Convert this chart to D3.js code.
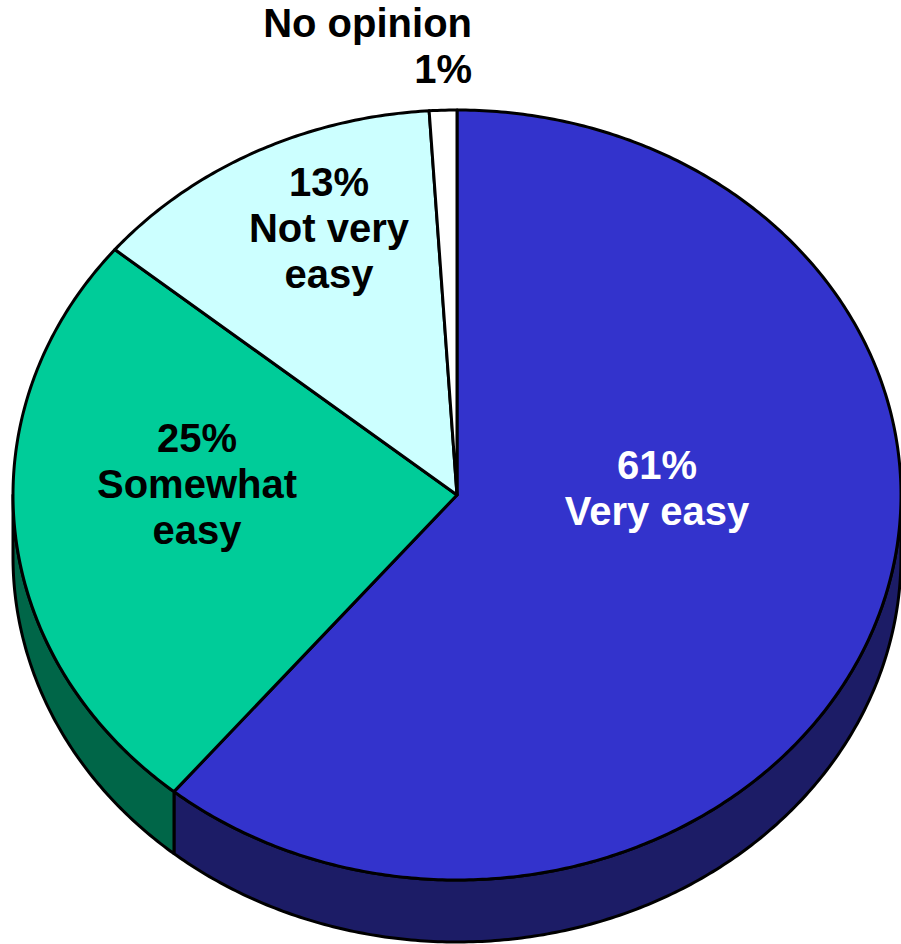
<!DOCTYPE html>
<html><head><meta charset="utf-8">
<script src="https://cdn.jsdelivr.net/npm/d3@7"></script>
<style>html,body{margin:0;padding:0;background:#fff;}svg{display:block;}</style>
</head><body>
<script>
const categories = ["Very easy", "Somewhat easy", "Not very easy", "No opinion"];
const values = [61, 25, 13, 1];
const labels = ["61%", "25%", "13%", "1%"];

const topColors = ["#3333cc", "#00cc99", "#ccffff", "#ffffff"];
const sideColors = ["#1c1c66", "#006648", "#99cccc", "#cccccc"];
const textColors = ["#ffffff", "#000000", "#000000", "#000000"];

const W = 901, H = 944;
const cx = 457, cy = 495, rx = 444, ry = 385, depth = 62;

const svg = d3.select("body").append("svg").attr("width", W).attr("height", H);

const pie = d3.pie().sort(null).value(d => d.v).startAngle(0).endAngle(2 * Math.PI);
const arcs = pie(values.map((v, i) => ({v, i})));

const P = (a, z = 0) => [cx + rx * Math.sin(a), cy - ry * Math.cos(a) + z];
const arcPts = (a0, a1, z) => {
  const n = Math.max(2, Math.ceil(Math.abs(a1 - a0) / 0.01));
  return d3.range(n + 1).map(k => P(a0 + (a1 - a0) * k / n, z));
};
const line = d3.line();

// side walls (front half: PI/2 .. 3PI/2)
const sides = svg.append("g");
arcs.forEach(d => {
  const a0 = Math.max(d.startAngle, Math.PI / 2);
  const a1 = Math.min(d.endAngle, 3 * Math.PI / 2);
  if (a1 <= a0) return;
  const pts = arcPts(a0, a1, 0).concat(arcPts(a1, a0, depth));
  sides.append("path")
    .attr("d", line(pts) + "Z")
    .attr("fill", sideColors[d.data.i])
    .attr("stroke", "#000").attr("stroke-width", 3).attr("stroke-linejoin", "round");
});

// top faces
const tops = svg.append("g");
arcs.forEach(d => {
  const pts = [[cx, cy]].concat(arcPts(d.startAngle, d.endAngle, 0));
  tops.append("path")
    .attr("d", line(pts) + "Z")
    .attr("fill", topColors[d.data.i])
    .attr("stroke", "#000").attr("stroke-width", 3).attr("stroke-linejoin", "round");
});

const labelLayout = [
  {x: 657, y: 479, anchor: "middle", lines: [labels[0], "Very easy"]},
  {x: 197, y: 452, anchor: "middle", lines: [labels[1], "Somewhat", "easy"]},
  {x: 329, y: 196, anchor: "middle", lines: [labels[2], "Not very", "easy"]},
  {x: 472, y: 37, anchor: "end", lines: ["No opinion", labels[3]]}
];

const lg = svg.append("g")
  .attr("font-family", "'Liberation Sans', Arial, sans-serif")
  .attr("font-weight", "bold").attr("font-size", 40);
labelLayout.forEach((L, i) => {
  const t = lg.append("text").attr("text-anchor", L.anchor).attr("fill", textColors[i]);
  L.lines.forEach((s, k) => {
    t.append("tspan").attr("x", L.x).attr("y", L.y + k * 46).text(s);
  });
});
</script>
</body></html>
